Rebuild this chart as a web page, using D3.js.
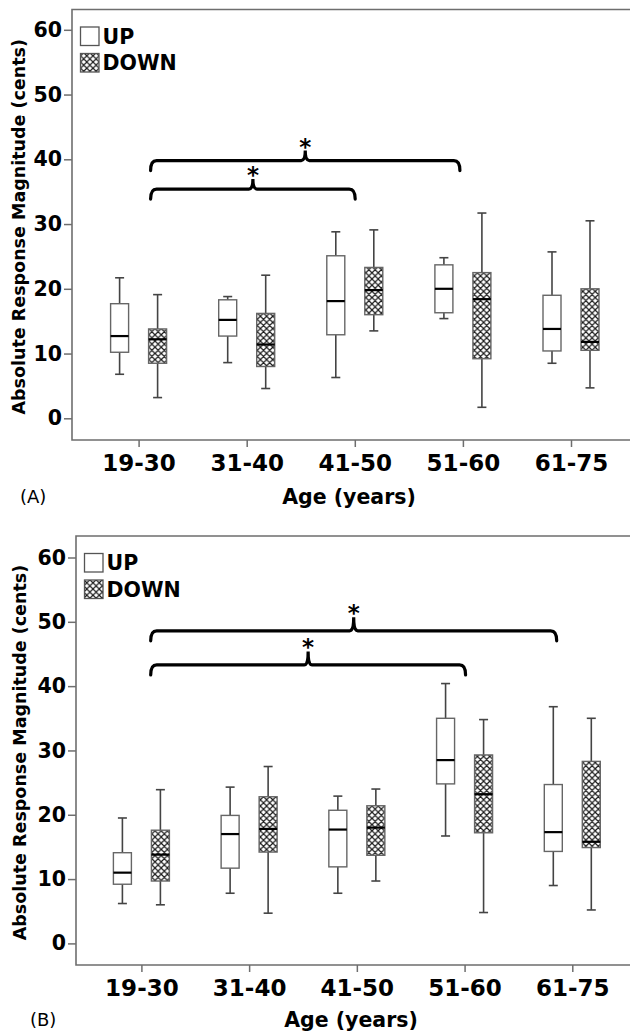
<!DOCTYPE html>
<html>
<head>
<meta charset="utf-8">
<script src="https://cdn.jsdelivr.net/npm/d3@7"></script>
<style>
  html, body { margin: 0; padding: 0; background: #fff; }
  svg { display: block; }
  text { font-family: "DejaVu Sans", sans-serif; fill: #000; }
</style>
</head>
<body>
<svg id="chart" width="630" height="1033"></svg>
<script>
// ---------------- DATA ----------------
const categories = ["19-30", "31-40", "41-50", "51-60", "61-75"];
const seriesNames = ["UP", "DOWN"];
const yTickValues = [0, 10, 20, 30, 40, 50, 60];
const xAxisTitle = "Age (years)";
const yAxisTitle = "Absolute Response Magnitude (cents)";

// box stats: [min, q1, median, q3, max]  (Panel A)
const upA = [
  [6.8, 10.2, 12.7, 17.7, 21.7],
  [8.6, 12.7, 15.2, 18.3, 18.8],
  [6.3, 12.9, 18.1, 25.1, 28.8],
  [15.4, 16.3, 20.0, 23.7, 24.8],
  [8.5, 10.4, 13.8, 19.0, 25.7]
];
const downA = [
  [3.2, 8.5, 12.2, 13.8, 19.1],
  [4.6, 8.0, 11.4, 16.2, 22.1],
  [13.5, 16.0, 19.8, 23.3, 29.1],
  [1.7, 9.2, 18.4, 22.5, 31.7],
  [4.7, 10.5, 11.8, 20.0, 30.5]
];
// Panel B
const upB = [
  [6.2, 9.2, 11.0, 14.1, 19.5],
  [7.8, 11.7, 17.0, 19.9, 24.3],
  [7.8, 11.9, 17.7, 20.7, 22.9],
  [16.7, 24.8, 28.5, 35.0, 40.4],
  [9.0, 14.3, 17.3, 24.7, 36.8]
];
const downB = [
  [6.0, 9.7, 13.8, 17.6, 23.9],
  [4.7, 14.2, 17.8, 22.8, 27.5],
  [9.7, 13.7, 18.0, 21.4, 24.0],
  [4.8, 17.2, 23.2, 29.3, 34.8],
  [5.2, 14.9, 15.8, 28.3, 35.0]
];
// significance brackets (level in cents)
const bracketsA = [
  { from: "19-30", to: "41-50", level: 35.4 },
  { from: "19-30", to: "51-60", level: 39.8 }
];
const bracketsB = [
  { from: "19-30", to: "51-60", level: 43.3 },
  { from: "19-30", to: "61-75", level: 48.6 }
];
const panelLabels = ["(A)", "(B)"];

// ---------------- LAYOUT ----------------
const panels = [
  { label: panelLabels[0], up: upA, down: downA, brackets: bracketsA,
    left: 72, top: 9.5, bottom: 440, right: 632,
    y0: 418.3, y60: 29.8, x0: 138.6, x4: 571,
    leftOff: 12, toOffs: [0.4, -3], nub: 10,
    ytitleX: 19, labelX: 20, titleY: 497 },
  { label: panelLabels[1], up: upB, down: downB, brackets: bracketsB,
    left: 76, top: 536, bottom: 965, right: 632,
    y0: 943.4, y60: 557.5, x0: 141.4, x4: 572.3,
    leftOff: 9.3, toOffs: [1, -15.6], nub: 13.5,
    ytitleX: 20, labelX: 30, titleY: 1020 }
];

const svg = d3.select("#chart");
const defs = svg.append("defs");
const pat = defs.append("pattern")
  .attr("id", "hatch").attr("patternUnits", "userSpaceOnUse")
  .attr("width", 6.2).attr("height", 6.2);
pat.append("rect").attr("width", 6.2).attr("height", 6.2).attr("fill", "#fff");
pat.append("path")
  .attr("d", "M0,0L6.2,6.2M6.2,0L0,6.2M-1,5.2L1,7.2M5.2,-1L7.2,1M-1,1L1,-1M5.2,7.2L7.2,5.2")
  .attr("stroke", "#1a1a1a").attr("stroke-width", 1.2).attr("fill", "none");

const frameColor = "#6e6e6e";

panels.forEach(p => {
  const g = svg.append("g");
  const y = d3.scaleLinear().domain([0, 60]).range([p.y0, p.y60]);
  const x = d3.scalePoint().domain(categories).range([p.x0, p.x4]);

  // frame
  g.append("path")
    .attr("d", `M${p.right},${p.top}H${p.left}V${p.bottom}H${p.right}`)
    .attr("fill", "none").attr("stroke", frameColor).attr("stroke-width", 1.6);

  // y axis
  const ya = g.append("g").attr("transform", `translate(${p.left},0)`)
    .call(d3.axisLeft(y).tickValues(yTickValues).tickSize(8).tickPadding(2));
  ya.select(".domain").remove();
  ya.selectAll(".tick line").attr("stroke", frameColor).attr("stroke-width", 1.5);
  ya.selectAll(".tick text").style("font-family", "DejaVu Sans").style("font-weight", "bold")
    .style("font-size", "20.5px").attr("fill", "#000");

  // x axis
  const xa = g.append("g").attr("transform", `translate(0,${p.bottom})`)
    .call(d3.axisBottom(x).tickSize(7).tickPadding(8));
  xa.select(".domain").remove();
  xa.selectAll(".tick line").attr("stroke", frameColor).attr("stroke-width", 1.5);
  xa.selectAll(".tick text").style("font-family", "DejaVu Sans").style("font-weight", "bold")
    .style("font-size", "23px").attr("fill", "#000");

  // titles
  g.append("text").attr("x", (p.left + 630) / 2 - 2).attr("y", p.titleY).attr("dy", "0.36em")
    .attr("text-anchor", "middle").style("font-weight", "bold").style("font-size", "20.5px")
    .text(xAxisTitle);
  g.append("text").attr("transform", `translate(${p.ytitleX},${(p.top + p.bottom) / 2 + 2}) rotate(-90)`)
    .attr("dy", "0.36em").attr("text-anchor", "middle")
    .style("font-weight", "bold").style("font-size", "17.5px").text(yAxisTitle);
  g.append("text").attr("x", p.labelX).attr("y", p.titleY).attr("dy", "0.36em")
    .style("font-size", "18px").text(p.label);

  // boxes
  const series = [
    { name: seriesNames[0], data: p.up, off: -19, fill: "#fff" },
    { name: seriesNames[1], data: p.down, off: 19, fill: "url(#hatch)" }
  ];
  const bw = 18, cw = 9;
  series.forEach(s => {
    s.data.forEach((d, i) => {
      const cx = x(categories[i]) + s.off;
      const [mn, q1, md, q3, mx] = d;
      g.append("line").attr("x1", cx).attr("x2", cx).attr("y1", y(mx)).attr("y2", y(mn))
        .attr("stroke", "#444").attr("stroke-width", 1.6);
      [mn, mx].forEach(v => g.append("line").attr("x1", cx - cw / 2).attr("x2", cx + cw / 2)
        .attr("y1", y(v)).attr("y2", y(v)).attr("stroke", "#444").attr("stroke-width", 1.6));
      g.append("rect").attr("x", cx - bw / 2).attr("y", y(q3)).attr("width", bw)
        .attr("height", y(q1) - y(q3)).attr("fill", s.fill)
        .attr("stroke", "#666").attr("stroke-width", 1.4);
      g.append("line").attr("x1", cx - bw / 2).attr("x2", cx + bw / 2)
        .attr("y1", y(md)).attr("y2", y(md)).attr("stroke", "#000").attr("stroke-width", 2.2);
    });
  });

  // brackets
  p.brackets.forEach((b, k) => {
    const x1 = x(b.from) + p.leftOff;
    const x2 = x(b.to) + p.toOffs[k];
    const yh = y(b.level);
    const mid = (x1 + x2) / 2;
    const d = 10, h = p.nub;
    const path = `M${x1},${yh + d}Q${x1},${yh} ${x1 + 6},${yh}L${mid - 4},${yh}` +
      `Q${mid},${yh} ${mid},${yh - h}Q${mid},${yh} ${mid + 4},${yh}` +
      `L${x2 - 6},${yh}Q${x2},${yh} ${x2},${yh + d}`;
    g.append("path").attr("d", path).attr("fill", "none").attr("stroke", "#000")
      .attr("stroke-width", 3.2).attr("stroke-linecap", "round");
    g.append("text").attr("x", mid).attr("y", yh - h - 9 + 13).attr("text-anchor", "middle")
      .style("font-weight", "bold").style("font-size", "23px").text("*");
  });

  // legend
  const lx = p.left + 8.5, ly = p.top + 17.5;
  const lg = g.append("g");
  series.forEach((s, i) => {
    const yy = ly + i * 26.5;
    lg.append("rect").attr("x", lx).attr("y", yy).attr("width", 18.5).attr("height", 18.5)
      .attr("fill", s.fill).attr("stroke", "#555").attr("stroke-width", 1.3);
    lg.append("text").attr("x", lx + 22).attr("y", yy + 9.5).attr("dy", "0.36em")
      .style("font-weight", "bold").style("font-size", "20.5px").text(s.name);
  });
});
</script>
</body>
</html>
